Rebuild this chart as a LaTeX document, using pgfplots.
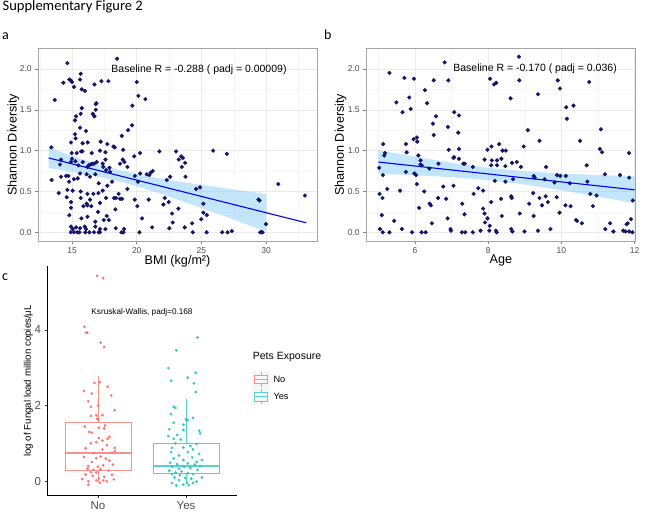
\documentclass[border=0pt]{standalone}
\usepackage{fontspec}
\setmainfont{Liberation Sans}
\newfontfamily\calibri{Carlito}
\usepackage{pgfplots}
\pgfplotsset{compat=1.18}
\usepgfplotslibrary{statistics}
\definecolor{navyc}{RGB}{20,20,105}
\definecolor{bandc}{RGB}{135,206,250}
\definecolor{gridmaj}{RGB}{235,235,235}
\definecolor{gridmin}{RGB}{246,246,246}
\definecolor{borderc}{RGB}{165,165,165}
\definecolor{tickc}{RGB}{77,77,77}
\definecolor{nored}{RGB}{248,118,109}
\definecolor{yescy}{RGB}{46,200,190}
\pgfplotsset{
  scatterpanel/.style={
    scale only axis, anchor=south west,
    grid=both,
    major grid style={draw=gridmaj, line width=0.5pt},
    minor grid style={draw=gridmin, line width=0.35pt},
    axis line style={draw=borderc, line width=0.5pt},
    tick align=outside, tick pos=left,
    major tick length=2.75pt, minor tick length=0pt,
    tick style={draw=tickc!70, line width=0.5pt},
    tick label style={font=\fontsize{8.5}{10}\selectfont, text=tickc},
    /pgf/number format/assume math mode=true,
    ytick={0,0.5,1,1.5,2},
    yticklabel style={/pgf/number format/fixed, /pgf/number format/fixed zerofill, /pgf/number format/precision=1},
    minor ytick={0.25,0.75,1.25,1.75},
    ymin=-0.115, ymax=2.256,
    label style={font=\fontsize{12.6}{14}\selectfont},
  },
}
\begin{document}
\begin{tikzpicture}
\path[use as bounding box] (0,0) rectangle (647pt,511pt);
\node[anchor=base west, inner sep=0pt, font=\calibri\fontsize{14.5}{16}\selectfont] at (2.5pt,500.5pt) {Supplementary Figure 2};
\node[anchor=base west, inner sep=0pt, font=\calibri\fontsize{14}{16}\selectfont] at (2pt,471pt) {a};
\node[anchor=base west, inner sep=0pt, font=\calibri\fontsize{14}{16}\selectfont] at (324pt,471pt) {b};
\node[anchor=base west, inner sep=0pt, font=\calibri\fontsize{14}{16}\selectfont] at (2pt,230pt) {c};

% ---------------- panel a ----------------
\begin{axis}[scatterpanel,
  at={(38pt,269.3pt)}, width=279pt, height=193.7pt,
  xmin=12.37, xmax=33.93,
  xtick={15,20,25,30}, minor xtick={12.5,17.5,22.5,27.5,32.5},
  xlabel={BMI (kg/m²)}, ylabel={Shannon Diversity},
  xlabel style={at={(axis description cs:0.5,-0.1)}, anchor=center},
  ylabel style={at={(axis description cs:-0.0885,0.5)}, anchor=center},
]
\addplot[only marks, mark=*, mark size=1.9pt, color=navyc] table {
x y
18.48 2.125
14.64 2.07
14.33 1.83
14.79 1.87
14.90 1.86
15.00 1.84
15.67 1.94
15.62 1.87
15.15 1.78
15.75 1.75
16.00 1.73
16.73 1.81
17.27 1.85
17.81 1.85
20.00 1.84
20.13 1.67
20.67 1.63
13.66 1.62
19.66 1.55
16.83 1.57
16.88 1.58
15.75 1.52
16.60 1.45
16.83 1.50
15.67 1.45
16.73 1.42
15.31 1.42
15.23 1.37
19.64 1.31
15.62 1.28
19.33 1.25
18.84 1.18
16.08 1.24
15.23 1.20
15.28 1.15
16.21 1.10
15.82 1.09
14.92 1.10
17.22 1.11
17.73 1.08
18.20 1.05
18.30 1.04
18.95 1.01
14.97 0.97
15.36 0.97
15.70 0.99
15.80 0.99
16.52 0.97
17.16 1.00
17.58 0.98
13.40 1.04
20.26 0.97
19.80 0.93
21.75 0.99
23.04 0.99
23.43 0.93
23.56 0.91
23.25 0.89
23.74 0.85
23.48 0.80
23.77 0.68
25.90 1.00
26.96 0.96
14.15 0.89
14.07 0.83
15.00 0.90
14.92 0.86
15.26 0.87
15.82 0.86
15.49 0.82
16.19 0.80
16.30 0.82
16.45 0.83
16.56 0.84
16.70 0.84
16.90 0.86
17.37 0.84
17.58 0.89
17.42 0.80
17.63 0.76
17.89 0.79
17.94 0.74
18.71 0.84
18.92 0.89
19.05 0.86
19.28 0.80
19.85 0.69
20.26 0.72
20.10 0.62
20.77 0.71
20.98 0.70
21.08 0.73
21.24 0.75
22.32 0.64
22.58 0.68
13.42 0.64
14.15 0.68
14.54 0.69
14.72 0.69
14.77 0.62
15.15 0.65
15.44 0.66
15.62 0.72
16.13 0.71
16.39 0.68
16.80 0.71
17.06 0.60
17.73 0.57
18.09 0.62
13.97 0.48
14.64 0.52
15.05 0.51
14.59 0.43
15.67 0.50
16.19 0.47
16.65 0.47
17.04 0.48
17.37 0.51
17.63 0.42
15.67 0.42
16.39 0.40
17.16 0.36
18.25 0.42
18.40 0.42
18.60 0.47
18.71 0.41
18.87 0.41
19.28 0.53
19.85 0.40
20.05 0.32
20.93 0.40
22.16 0.42
22.06 0.34
22.47 0.37
23.22 0.29
14.92 0.37
14.92 0.30
15.88 0.32
16.13 0.35
16.19 0.33
16.49 0.32
14.79 0.21
15.72 0.17
16.19 0.19
17.01 0.25
17.68 0.20
17.84 0.15
18.35 0.28
17.45 0.15
16.80 0.13
20.41 0.17
22.73 0.23
22.78 0.12
25.15 0.24
25.41 0.21
24.99 0.16
24.28 0.11
24.59 0.53
24.89 0.55
25.15 0.35
21.19 0.06
22.52 0.05
23.71 0.06
18.38 0.05
19.02 0.04
14.92 0.07
15.05 0.04
15.31 0.06
15.62 0.05
15.98 0.07
16.08 0.04
16.80 0.07
17.16 0.04
17.58 0.04
14.90 0.00
15.15 0.00
15.41 0.00
15.57 0.00
16.03 0.00
16.34 0.00
16.70 0.00
17.06 0.00
17.16 0.00
18.82 0.00
18.97 0.00
20.21 0.00
24.33 0.00
25.40 0.00
26.60 0.00
27.02 0.00
27.35 0.015
29.41 0.40
29.49 0.39
29.54 0.00
29.62 0.00
29.72 0.00
29.99 0.10
30.94 0.59
33.00 0.45
};
\addplot[fill=bandc, fill opacity=0.5, draw=none] coordinates {
(13.2,1.035) (14,0.991) (15,0.936) (16,0.884) (17,0.834) (18,0.790) (19,0.749) (20,0.714) (22,0.655) (24,0.604) (26,0.558) (28,0.514) (30,0.470)
(30,0.010) (28,0.126) (26,0.241) (24,0.354) (22,0.463) (20,0.564) (19,0.609) (18,0.648) (17,0.682) (16,0.712) (15,0.740) (14,0.766) (13.2,0.785)
};
\addplot[color=blue, line width=1.1pt] coordinates {(13.2,0.910) (33.1,0.116)};
\node[font=\fontsize{10.5}{12}\selectfont] at (axis cs:24.81,1.99) {Baseline R = -0.288 ( padj = 0.00009)};
\end{axis}

% ---------------- panel b ----------------
\begin{axis}[scatterpanel,
  at={(366pt,269.3pt)}, width=269.7pt, height=193.7pt,
  xmin=4.66, xmax=12.03,
  xtick={6,8,10,12}, minor xtick={5,7,9,11},
  xlabel={Age}, ylabel={Shannon Diversity},
  xlabel style={at={(axis description cs:0.5,-0.095)}, anchor=center},
  ylabel style={at={(axis description cs:-0.094,0.5)}, anchor=center},
]
\addplot[only marks, mark=*, mark size=1.9pt, color=navyc] table {
x y
6.81 2.08
5.30 1.95
5.71 1.89
5.97 1.88
6.51 1.86
6.91 1.86
6.27 1.74
5.49 1.59
5.84 1.65
6.33 1.58
5.88 1.51
5.66 1.47
6.57 1.42
7.07 1.47
7.20 1.43
6.49 1.33
6.90 1.29
7.18 1.22
6.51 1.19
6.05 1.16
5.96 1.14
6.06 1.11
5.13 1.08
5.75 1.08
5.16 0.94
5.18 0.97
5.77 0.98
6.09 0.94
6.15 0.88
6.15 0.83
6.18 0.82
6.39 0.78
6.64 0.84
6.92 1.01
7.05 0.91
7.07 0.92
7.20 0.90
7.32 0.84
7.36 0.84
7.58 0.80
7.20 1.02
5.02 0.79
5.12 0.70
5.75 0.74
5.98 0.72
6.03 0.70
6.05 0.59
6.25 0.50
6.77 0.56
5.03 0.47
5.24 0.53
5.11 0.42
5.59 0.51
6.63 0.42
6.85 0.41
7.05 0.57
5.09 0.21
6.11 0.30
6.40 0.35
6.43 0.33
5.43 0.14
6.46 0.11
5.04 0.04
5.12 0.00
5.30 0.00
5.64 0.04
5.92 0.00
6.18 0.00
6.29 0.00
6.89 0.17
6.97 0.04
6.98 0.02
7.28 0.00
7.37 0.00
7.58 0.00
7.79 0.02
7.60 0.47
7.73 0.54
7.86 0.29
7.35 0.22
7.29 0.35
8.84 2.15
8.05 1.88
8.16 1.81
8.22 1.83
8.85 1.86
9.90 1.86
9.96 1.76
10.76 1.84
8.61 1.64
9.36 1.69
10.13 1.53
10.33 1.55
10.15 1.39
9.08 1.25
11.08 1.26
9.40 1.12
8.30 1.08
8.09 1.05
7.98 1.01
8.39 1.00
8.48 1.00
8.97 1.05
10.51 1.12
11.05 1.02
11.11 0.98
11.85 0.97
7.90 0.89
8.10 0.88
8.24 0.88
8.36 0.90
8.65 0.85
8.78 0.86
8.89 0.80
8.08 0.82
8.24 0.82
8.47 0.81
9.58 0.80
10.69 0.82
8.18 0.63
8.47 0.62
8.68 0.65
9.24 0.69
9.27 0.67
9.54 0.65
9.88 0.70
9.97 0.69
10.12 0.69
9.81 0.61
10.23 0.60
10.71 0.62
10.79 0.47
10.96 0.45
11.19 0.71
11.60 0.70
11.85 0.67
7.86 0.51
8.08 0.37
8.35 0.41
8.63 0.44
8.64 0.42
9.23 0.48
9.12 0.35
9.40 0.42
9.57 0.44
9.63 0.37
9.47 0.33
9.87 0.43
10.11 0.33
10.25 0.32
10.86 0.32
7.90 0.23
8.37 0.20
8.86 0.23
9.24 0.20
9.95 0.24
10.40 0.15
10.43 0.14
10.56 0.11
7.91 0.12
7.98 0.17
8.04 0.08
8.03 0.02
8.21 0.02
8.23 0.00
8.63 0.04
8.66 0.01
8.99 0.01
9.36 0.02
9.70 0.04
11.20 0.04
11.33 0.11
11.42 0.01
11.69 0.02
11.75 0.01
11.81 0.11
11.85 0.01
11.95 0.39
11.90 0.16
11.94 0.00
11.78 0.10
};
\addplot[fill=bandc, fill opacity=0.5, draw=none] coordinates {
(5,1.005) (6,0.925) (7,0.851) (8,0.789) (9,0.747) (10,0.719) (11,0.701) (12,0.685)
(12,0.355) (11,0.437) (10,0.515) (9,0.585) (8,0.639) (7,0.675) (6,0.698) (5,0.715)
};
\addplot[color=blue, line width=1.1pt] coordinates {(5,0.860) (12,0.520)};
\node[font=\fontsize{10.5}{12}\selectfont] at (axis cs:9.28,2.0) {Baseline R = -0.170 ( padj = 0.036)};
\end{axis}

% ---------------- panel c ----------------
\begin{axis}[
  at={(47.3pt,15.3pt)}, anchor=south west,
  scale only axis, width=189.4pt, height=229.7pt,
  xmin=0.424, xmax=2.576, ymin=-0.37, ymax=5.68,
  axis x line*=bottom, axis y line*=left,
  axis line style={-, draw=black, line width=0.6pt},
  xtick={1,2}, xticklabels={No,Yes}, ytick={0,2,4},
  tick align=outside, major tick length=2.75pt,
  tick style={draw=black!80, line width=0.5pt},
  tick label style={font=\fontsize{11.5}{13}\selectfont, text=tickc},
  /pgf/number format/assume math mode=true,
  ylabel={log of Fungal load million copies/μL},
  ylabel style={font=\fontsize{9.7}{11}\selectfont, at={(axis description cs:-0.1,0.5)}, anchor=center},
  boxplot/draw direction=y,
  boxplot/every median/.style={line width=1.5pt},
]
\addplot[boxplot prepared={draw position=1, median=0.75, lower quartile=0.29, upper quartile=1.55, lower whisker=0, upper whisker=2.78, box extend=0.75, whisker extend=0}, draw=nored!80, line width=0.8pt, mark=none] coordinates {};
\addplot[boxplot prepared={draw position=2, median=0.41, lower quartile=0.22, upper quartile=1.01, lower whisker=0, upper whisker=2.19, box extend=0.75, whisker extend=0}, draw=yescy!80, line width=0.8pt, mark=none] coordinates {};
\addplot[only marks, mark=*, mark size=1.15pt, color=nored] table {
x y
0.845 4.08
0.879 3.93
0.864 3.92
1.03 3.66
1.07 3.55
1.02 2.62
0.96 2.60
1.11 2.50
0.84 2.39
0.93 2.32
1.15 2.27
0.89 2.12
1.00 2.00
0.92 1.97
1.19 1.88
0.98 1.75
0.92 1.73
1.05 1.75
0.99 1.66
1.00 1.64
0.85 1.45
1.08 1.48
1.01 1.42
0.90 1.31
0.93 1.29
1.07 1.40
1.13 1.18
1.01 1.15
1.11 1.13
1.05 1.08
0.98 1.04
0.92 1.01
1.10 0.96
1.19 0.89
0.86 0.88
1.05 0.85
0.95 0.75
1.16 0.76
1.19 0.80
0.84 0.65
1.03 0.66
0.98 0.62
1.09 0.61
1.13 0.55
0.93 0.52
1.17 0.45
1.06 0.43
0.89 0.41
1.00 0.39
0.88 0.34
1.03 0.32
0.95 0.31
1.12 0.29
0.92 0.25
0.98 0.24
0.86 0.19
1.16 0.18
0.94 0.15
1.07 0.13
0.82 0.07
1.01 0.08
1.18 0.06
0.98 0.03
1.10 0.01
0.89 0.01
1.06 0.03
0.89 -0.08
1.02 -0.03
0.99 5.42
1.06 5.36
};
\addplot[only marks, mark=*, mark size=1.15pt, color=yescy] table {
x y
2.13 3.80
1.89 3.46
1.80 2.99
2.11 2.87
1.83 2.66
2.02 2.74
2.09 2.59
2.11 2.36
1.86 1.97
1.88 1.94
1.83 1.78
2.08 1.68
2.00 1.64
2.02 1.62
1.86 1.55
1.97 1.50
1.81 1.38
2.15 1.34
2.16 1.27
1.97 1.36
1.90 1.23
1.80 1.20
1.86 1.13
1.94 1.11
1.88 1.01
2.12 0.99
2.05 0.94
1.97 0.90
1.84 0.89
2.08 0.85
1.83 0.78
2.02 0.78
2.15 0.73
1.92 0.69
2.07 0.64
1.86 0.61
2.18 0.57
1.97 0.57
2.12 0.52
1.82 0.50
2.02 0.48
1.90 0.46
2.10 0.45
1.84 0.39
1.98 0.39
2.16 0.41
1.92 0.34
2.05 0.36
1.81 0.29
2.13 0.31
1.95 0.27
1.88 0.24
2.02 0.22
1.84 0.20
2.08 0.20
1.93 0.17
2.18 0.11
1.87 0.11
1.99 0.10
2.06 0.08
1.92 0.04
1.84 -0.04
2.01 -0.03
2.08 -0.04
1.97 -0.08
1.89 -0.10
2.03 -0.09
2.12 0.00
};
\node[font=\fontsize{8.2}{10}\selectfont] at (axis cs:1.5,4.45) {Ksruskal-Wallis, padj=0.168};
\end{axis}

% ---------------- legend ----------------
\node[anchor=west, inner sep=0pt, font=\fontsize{10.5}{12}\selectfont] at (252.7pt,154pt) {Pets Exposure};
\foreach \yc/\col/\lab in {131.5/nored/No, 114.2/yescy/Yes}{
  \fill[gray!7] (252.2pt,\yc pt-8.6pt) rectangle (269.5pt,\yc pt+8.6pt);
  \draw[\col!80, line width=0.6pt] (260.85pt,\yc pt-7.5pt) -- (260.85pt,\yc pt-4.3pt);
  \draw[\col!80, line width=0.6pt] (260.85pt,\yc pt+4.3pt) -- (260.85pt,\yc pt+7.5pt);
  \draw[\col!80, line width=0.6pt] (254.4pt,\yc pt-4.3pt) rectangle (267.3pt,\yc pt+4.3pt);
  \draw[\col!80, line width=1pt] (254.4pt,\yc pt) -- (267.3pt,\yc pt);
  \node[anchor=west, inner sep=0pt, font=\fontsize{9.2}{11}\selectfont] at (273.3pt,\yc pt) {\lab};
}
\end{tikzpicture}
\end{document}
